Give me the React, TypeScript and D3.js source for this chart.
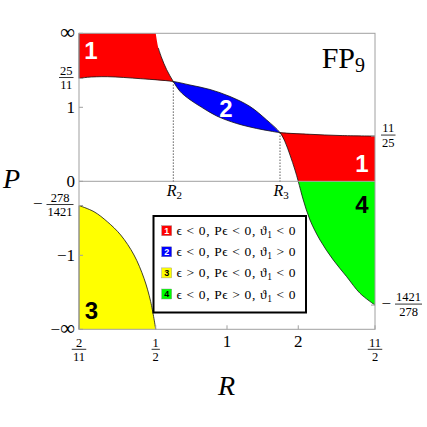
import React from 'react';
import * as d3 from 'd3';

type Pt = [number, number];

// Boundary curves as (R, P)
const curveA: Pt[] = [
  [0.5, Infinity], [0.5136, 9.07], [0.5321, 4.99], [0.5599, 3.066], [0.5985, 2.07],
  [0.6395, 1.551], [0.7049, 1.229], [0.7884, 1.0], [0.9081, 0.7896], [1.0951, 0.6407],
  [1.3226, 0.5547], [1.5036, 0.515], [1.6593, 0.4905], [2.2692, 0.4654], [3.2425, 0.448],
  [5.5, 11 / 25],
];
const curveB: Pt[] = [
  [2 / 11, 25 / 11], [0.2096, 2.364], [0.2821, 2.41], [0.4248, 2.26], [0.5985, 2.07],
  [0.7049, 1.8626], [0.8527, 1.6337], [1.0284, 1.3419], [1.2411, 1.0218], [1.456, 0.7072],
  [1.6593, 0.4905], [1.7446, 0.3653], [1.8357, 0.2161], [1.9329, 0.0827], [2.0, 0],
  [2.11, -0.1446], [2.2692, -0.354], [2.54, -0.6574], [2.978, -1.136], [3.545, -1.814],
  [4.293, -3.111], [5.5, -1421 / 278],
];
const curveC: Pt[] = [
  [2 / 11, -278 / 1421], [0.2329, -0.2585], [0.2821, -0.3755], [0.3358, -0.5694],
  [0.3937, -0.992], [0.4406, -1.902], [0.4739, -4.361], [0.5, -Infinity],
];
const R2: Pt = [0.5985, 2.07];
const R3: Pt = [1.6593, 0.4905];

const xTickValues = [2 / 11, 1 / 2, 1, 2, 11 / 2];
const xTickLabels = ['2/11', '1/2', '1', '2', '11/2'];
const yLeftTickValues = [Infinity, 25 / 11, 1, 0, -278 / 1421, -1, -Infinity];
const yLeftTickLabels = ['∞', '25/11', '1', '0', '−278/1421', '−1', '−∞'];
const yRightTickValues = [11 / 25, -1421 / 278];
const yRightTickLabels = ['11/25', '−1421/278'];

const regionColors = ['#ff0000', '#0000ff', '#ffff00', '#00ff00'];
const regionNumColors = ['#fff', '#fff', '#000', '#000'];
const legendSigns = [['<', '<', '<'], ['<', '<', '>'], ['>', '<', '<'], ['<', '>', '<']];

const SERIF = 'Liberation Serif, Times New Roman, DejaVu Serif, serif';
const SANS = 'Liberation Sans, Arial, Helvetica, sans-serif';

export default function App() {
  const xl = d3.scaleLinear().domain([2 / 13, 11 / 13]).range([79, 375]);
  const yl = d3.scaleLinear().domain([-1, 1]).range([329.3, 33.3]);
  const fx = (R: number) => xl(R / (1 + R));
  const fy = (P: number) => yl(Number.isFinite(P) ? P / (1 + Math.abs(P)) : Math.sign(P));

  const smooth = d3.line<Pt>().x(d => fx(d[0])).y(d => fy(d[1])).curve(d3.curveCatmullRom.alpha(0.5));
  const straight = d3.line<Pt>().x(d => fx(d[0])).y(d => fy(d[1]));
  const join = (segs: string[]) => segs[0] + segs.slice(1).map(s => s.replace(/^M/, 'L')).join('') + 'Z';

  const inR = (c: Pt[], a: number, b: number) => c.filter(d => d[0] >= a - 1e-9 && d[0] <= b + 1e-9);

  const region1L = join([
    straight([[2 / 11, Infinity], [0.5, Infinity]])!,
    smooth(inR(curveA, 0, R2[0]))!,
    smooth(inR(curveB, 0, R2[0]).reverse())!,
  ]);
  const region2 = join([
    smooth(inR(curveB, R2[0], R3[0]))!,
    smooth(inR(curveA, R2[0], R3[0]).reverse())!,
  ]);
  const regionRight = join([
    smooth(inR(curveB, R3[0], 100))!,
    smooth(inR(curveA, R3[0], 100).reverse())!,
  ]);
  const region3 = join([
    straight([[2 / 11, -Infinity]])!,
    smooth(curveC)!,
  ]);

  const x0 = fx(2 / 11), x1 = fx(11 / 2);
  const yTop = fy(Infinity), yBot = fy(-Infinity), yZero = fy(0);

  const renderFrac = (label: string, key: string, opts: { cx?: number; right?: number; left?: number; lineY: number; fs: number }) => {
    const neg = label.startsWith('−');
    const [num, den] = label.replace('−', '').split('/');
    const cw = opts.fs * 0.5;
    const lw = Math.max(num.length, den.length) * cw + 2;
    let cx: number;
    if (opts.cx !== undefined) cx = opts.cx;
    else if (opts.right !== undefined) cx = opts.right - lw / 2;
    else cx = (opts.left as number) + (neg ? 14 : 0) + lw / 2;
    return (
      <g key={key} fontFamily={SERIF} fontSize={opts.fs} fill="#000">
        {neg && (
          <text x={cx - lw / 2 - 4} y={opts.lineY + 4.5} textAnchor="end" fontSize={17}>−</text>
        )}
        <text x={cx} y={opts.lineY - 2.8} textAnchor="middle">{num}</text>
        <line x1={cx - lw / 2} x2={cx + lw / 2} y1={opts.lineY} y2={opts.lineY} stroke="#000" strokeWidth={0.8} />
        <text x={cx} y={opts.lineY + 11.8} textAnchor="middle">{den}</text>
      </g>
    );
  };

  const plainLabel = (lab: string, key: string, x: number, y: number) => {
    if (lab.includes('∞')) {
      const neg = lab.startsWith('−');
      return (
        <text key={key} x={x} y={y + 5.5} textAnchor="end" fontFamily={SERIF} fontSize={17}>
          {neg ? '−' : ''}<tspan fontSize={21} dy={0.5}>∞</tspan>
        </text>
      );
    }
    return (
      <text key={key} x={x} y={y + 5.5} textAnchor="end" fontFamily={SERIF} fontSize={17}>{lab}</text>
    );
  };

  return (
    <svg width={427} height={427} style={{ position: 'absolute', left: 0, top: 0 }} xmlns="http://www.w3.org/2000/svg">
      <rect x={0} y={0} width={427} height={427} fill="#fff" />
      <defs>
        <clipPath id="clipTop"><rect x={0} y={0} width={427} height={yZero} /></clipPath>
        <clipPath id="clipBot"><rect x={0} y={yZero} width={427} height={427 - yZero} /></clipPath>
      </defs>

      {/* regions */}
      <path d={region1L} fill={regionColors[0]} />
      <path d={region2} fill={regionColors[1]} />
      <path d={regionRight} fill={regionColors[0]} clipPath="url(#clipTop)" />
      <path d={regionRight} fill={regionColors[3]} clipPath="url(#clipBot)" />
      <path d={region3} fill={regionColors[2]} />

      {/* boundary curves */}
      <path d={smooth(curveA.slice(1))!} fill="none" stroke="#111" strokeWidth={0.8} />
      <path d={smooth(curveB)!} fill="none" stroke="#111" strokeWidth={0.8} />
      <path d={smooth(curveC)!} fill="none" stroke="#111" strokeWidth={0.8} />
      <line x1={x0} x2={x0} y1={yTop} y2={fy(25 / 11)} stroke="#333" strokeWidth={0.8} />
      <line x1={x0} x2={x0} y1={fy(-278 / 1421)} y2={yBot} stroke="#555" strokeWidth={0.8} />

      {/* frame and zero line */}
      <rect x={x0} y={yTop} width={x1 - x0} height={yBot - yTop} fill="none" stroke="#a0a0a0" strokeWidth={1} />
      <line x1={x0} x2={x1} y1={yZero} y2={yZero} stroke="#a0a0a0" strokeWidth={1} />

      {/* dotted markers */}
      {[R2, R3].map((p, i) => (
        <line key={i} x1={fx(p[0])} x2={fx(p[0])} y1={fy(p[1])} y2={yZero} stroke="#000" strokeWidth={0.8} strokeDasharray="1.2,1.8" />
      ))}
      {[R2, R3].map((p, i) => (
        <text key={'rl' + i} x={fx(p[0]) - 6.5} y={196} fontFamily={SERIF} fontStyle="italic" fontSize={16} fill="#000">
          R<tspan fontStyle="normal" fontSize={11} dy={3}>{i === 0 ? '2' : '3'}</tspan>
        </text>
      ))}

      {/* ticks */}
      {xTickValues.map((v, i) => (
        <line key={'xt' + i} x1={fx(v)} x2={fx(v)} y1={yBot} y2={yBot - 4} stroke="#a0a0a0" />
      ))}
      {yLeftTickValues.map((v, i) => (
        <line key={'yt' + i} x1={x0} x2={x0 + 4} y1={fy(v)} y2={fy(v)} stroke="#a0a0a0" />
      ))}
      {yRightTickValues.map((v, i) => (
        <line key={'yr' + i} x1={x1} x2={x1 - 4} y1={fy(v)} y2={fy(v)} stroke="#a0a0a0" />
      ))}

      {/* tick labels */}
      {xTickValues.map((v, i) => {
        const lab = xTickLabels[i];
        if (lab.includes('/')) return renderFrac(lab, 'xl' + i, { cx: fx(v), lineY: 349.3, fs: 12.5 });
        return (
          <text key={'xl' + i} x={fx(v)} y={346.7} textAnchor="middle" fontFamily={SERIF} fontSize={17}>{lab}</text>
        );
      })}
      {yLeftTickValues.map((v, i) => {
        const lab = yLeftTickLabels[i];
        if (lab.includes('/')) return renderFrac(lab, 'yl' + i, { right: 73.5, lineY: fy(v) - 1, fs: 12.5 });
        return plainLabel(lab, 'yl' + i, 75, fy(v));
      })}
      {yRightTickValues.map((v, i) => {
        const lab = yRightTickLabels[i];
        return renderFrac(lab, 'yr' + i, { left: 381, lineY: fy(v) - 1, fs: 12.5 });
      })}

      {/* axis labels */}
      <text x={3} y={188.3} fontFamily={SERIF} fontStyle="italic" fontSize={28}>P</text>
      <text x={218} y={395} fontFamily={SERIF} fontStyle="italic" fontSize={28}>R</text>

      {/* title */}
      <text x={321.7} y={68} fontFamily={SERIF} fontSize={30}>FP<tspan fontSize={20} dy={3.5}>9</tspan></text>

      {/* region numbers */}
      <g fontFamily={SANS} fontWeight="bold" fontSize={24} textAnchor="middle">
        <text x={91} y={59.3} fill="#fff">1</text>
        <text x={226} y={116.5} fill="#fff">2</text>
        <text x={362} y={171.7} fill="#fff">1</text>
        <text x={362} y={213} fill="#000">4</text>
        <text x={91.5} y={319} fill="#000">3</text>
      </g>

      {/* legend */}
      <rect x={153.5} y={216} width={152.5} height={96.5} fill="#fff" stroke="#000" strokeWidth={2} />
      {legendSigns.map((s, i) => {
        const cy = 230.7 + i * 21.1;
        return (
          <g key={'lg' + i}>
            <rect x={161.7} y={cy - 5} width={10} height={10} fill={regionColors[i]} stroke="#888" strokeWidth={0.4} />
            <text x={166.7} y={cy + 3.3} textAnchor="middle" fontFamily={SANS} fontWeight="bold" fontSize={9} fill={regionNumColors[i]}>{i + 1}</text>
            <text x={176.5} y={cy + 4.5} fontFamily={SERIF} fontSize={13.5} fill="#000" textLength={119} lengthAdjust="spacing">
              {`ϵ ${s[0]} 0, Pϵ ${s[1]} 0, ϑ`}<tspan fontSize={9.5} dy={3}>1</tspan><tspan dy={-3}>{` ${s[2]} 0`}</tspan>
            </text>
          </g>
        );
      })}
    </svg>
  );
}
